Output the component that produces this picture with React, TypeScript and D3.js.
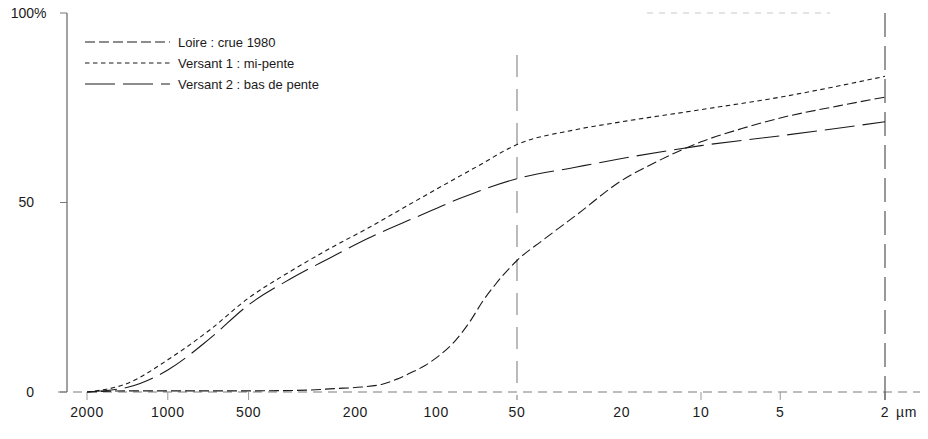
import React from "react";
import * as d3 from "d3";

// ---- data (particle diameter in µm, cumulative %) ----
const loireSizes = [2000, 1400, 1000, 700, 500, 300, 240, 190, 160, 140, 125, 110, 100, 85, 75, 67, 60, 50, 40, 30, 20, 15, 10, 7, 5, 3, 2];
const loireValues = [0, 0.3, 0.3, 0.3, 0.3, 0.5, 0.9, 1.3, 2, 3.4, 5, 7, 9, 13.5, 18.5, 24, 28.5, 34.7, 40, 46.5, 55.8, 60.5, 66, 69.5, 72.3, 75.5, 77.8];

const versant1Sizes = [2000, 1400, 1000, 700, 500, 350, 250, 180, 120, 90, 70, 50, 30, 20, 10, 5, 2];
const versant1Values = [0, 2.4, 8.5, 16.3, 24.8, 31.8, 37.8, 43.2, 50.3, 55.3, 59.6, 65.3, 69.2, 71.3, 74.5, 77.8, 83.3];

const versant2Sizes = [2000, 1400, 1000, 700, 500, 350, 250, 180, 120, 80, 50, 30, 20, 10, 5, 2];
const versant2Values = [0, 1.3, 5.8, 14, 23, 29.8, 35.3, 40.5, 46, 51.3, 56.3, 59.3, 61.6, 65, 67.6, 71.3];

const seriesNames = ["Loire  : crue 1980", "Versant 1 : mi-pente", "Versant 2 : bas de pente"];

const xTickValues = [2000, 1000, 500, 200, 100, 50, 20, 10, 5, 2];
const xTickMarks = [2000, 1000, 500, 10, 5, 2];
const yTickValues = [0, 50, 100];

const W = 928;
const H = 439;

export default function App() {
  const x = d3.scaleLog().domain([2000, 50, 2]).range([87, 517, 885]);
  const y = d3.scaleLinear().domain([0, 100]).range([392, 13]);

  const line = d3
    .line<[number, number]>()
    .x((d) => x(d[0]))
    .y((d) => y(d[1]))
    .curve(d3.curveMonotoneX);

  const series = [
    { name: seriesNames[0], pts: loireSizes.map((s, i) => [s, loireValues[i]] as [number, number]), dash: "10,4", w: 1.1 },
    { name: seriesNames[1], pts: versant1Sizes.map((s, i) => [s, versant1Values[i]] as [number, number]), dash: "4.5,3.5", w: 1.1 },
    { name: seriesNames[2], pts: versant2Sizes.map((s, i) => [s, versant2Values[i]] as [number, number]), dash: "30,8", w: 1.1 },
  ];

  const font = "'Liberation Sans', Arial, sans-serif";
  const ink = "#1a1a1a";

  return (
    <div style={{ position: "fixed", left: 0, top: 0, width: W, height: H, background: "#fff" }}>
      <svg width={W} height={H} viewBox={`0 0 ${W} ${H}`} style={{ display: "block" }}>
        <rect width={W} height={H} fill="#fff" />

        {/* faint top frame remnant */}
        <line x1={647} x2={830} y1={13} y2={13} stroke="#c8c8c8" strokeWidth={1} strokeDasharray="6,6" />

        {/* baseline */}
        <line x1={58} x2={920} y1={y(0)} y2={y(0)} stroke="#a8a8a8" strokeWidth={1.3} strokeDasharray="9,6" />

        {/* y axis */}
        <line x1={67} x2={67} y1={y(100)} y2={y(0)} stroke="#444" strokeWidth={1} />
        {yTickValues.map((v) => (
          <line key={"yt" + v} x1={60} x2={67} y1={y(v)} y2={y(v)} stroke="#777" strokeWidth={1} />
        ))}
        {yTickValues.map((v) => (
          <text
            key={"yl" + v}
            x={34}
            y={y(v)}
            dy="0.35em"
            textAnchor="end"
            fontFamily={font}
            fontSize={14}
            fill={ink}
          >
            {v}
          </text>
        ))}
        <text x={34} y={y(100)} dy="0.35em" fontFamily={font} fontSize={14} fill={ink}>
          %
        </text>

        {/* x tick marks */}
        {xTickMarks.map((v) => (
          <line key={"xt" + v} x1={x(v)} x2={x(v)} y1={y(0)} y2={y(0) + 8} stroke="#999" strokeWidth={1} />
        ))}
        {xTickValues.map((v) => (
          <text
            key={"xl" + v}
            x={x(v)}
            y={412}
            dy="0.35em"
            textAnchor="middle"
            fontFamily={font}
            fontSize={14}
            letterSpacing={0.6}
            fill={ink}
          >
            {v}
          </text>
        ))}
        <text x={x(2) + 11} y={412} dy="0.35em" fontFamily={font} fontSize={14} letterSpacing={0.6} fill={ink}>
          µm
        </text>

        {/* reference verticals */}
        <line x1={x(50)} x2={x(50)} y1={55} y2={400} stroke="#aaa" strokeWidth={1.6} strokeDasharray="22,12" />
        <line x1={x(2)} x2={x(2)} y1={13} y2={400} stroke="#555" strokeWidth={1.2} strokeDasharray="24,9" />

        {/* curves */}
        {series.map((s) => (
          <path key={s.name} d={line(s.pts) || ""} fill="none" stroke={ink} strokeWidth={s.w} strokeDasharray={s.dash} />
        ))}

        {/* legend */}
        {series.map((s, i) => (
          <g key={"lg" + i} transform={`translate(0, ${42 + i * 21})`}>
            <line x1={85} x2={170} y1={0} y2={0} stroke={ink} strokeWidth={1} strokeDasharray={s.dash} />
            <text x={178} y={0} dy="0.35em" fontFamily={font} fontSize={13} fill={ink}>
              {s.name}
            </text>
          </g>
        ))}
      </svg>
    </div>
  );
}
